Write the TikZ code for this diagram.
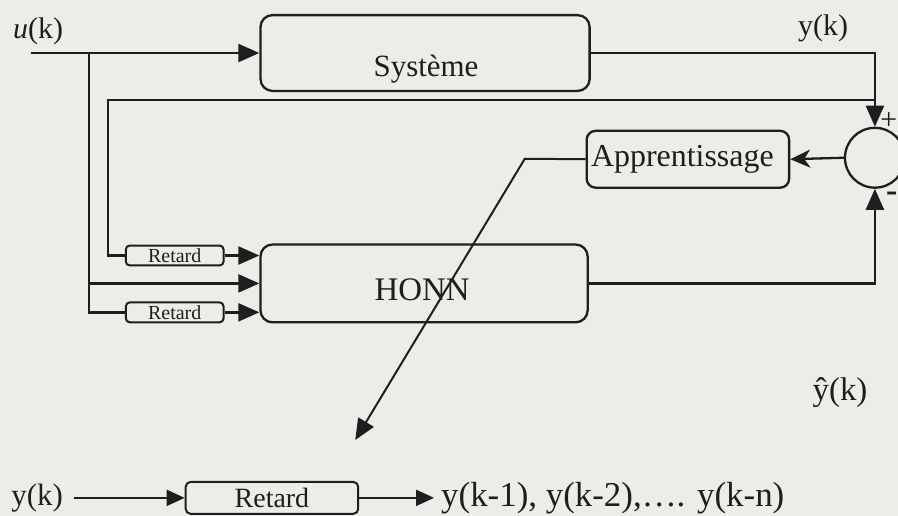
\documentclass[tikz,border=0pt]{standalone}
\usepackage{fontspec}
\setmainfont{Liberation Serif}
\usetikzlibrary{arrows.meta}
\definecolor{paper}{HTML}{EDECE8}
\definecolor{ink}{HTML}{1E1E1E}
\newcommand{\fsz}[1]{\fontsize{#1}{#1}\selectfont}
\begin{document}
\begin{tikzpicture}[x=1pt,y=-1pt,
  line width=2.3pt,
  every path/.style={draw=ink},
  blk/.style={draw=ink, line width=2.3pt, rounded corners=12pt, inner sep=0pt},
  retbox/.style={draw=ink, line width=2pt, rounded corners=4pt, inner sep=0pt,
                 minimum width=98pt, minimum height=20pt, font=\fsz{20}, text=ink},
  lbl/.style={inner sep=0pt, text=ink},
  arr/.style={-{Triangle[length=21pt,width=18pt]}},
  arrsm/.style={-{Triangle[length=18pt,width=16pt]}},
  arrst/.style={-{Stealth[length=20pt,width=18pt,inset=6pt]}},
]
\useasboundingbox (0,0) rectangle (898,515);
\fill[paper] (0,0) rectangle (898,515);

% blocks
\node[blk, minimum width=330pt, minimum height=76pt] (sys) at (425,52) {};
\node[lbl, font=\fsz{31}] (systxt) at (426,68) {Système};
\node[blk, minimum width=328pt, minimum height=78pt] (honn) at (424,283) {};
\node[lbl, font=\fsz{33}] (honntxt) at (422,289) {HONN};
\node[blk, rounded corners=9pt, minimum width=203pt, minimum height=57pt] (appr) at (688.5,158.5) {};
\node[lbl, font=\fsz{32}] (apprtxt) at (683,159) {Apprentissage};
\node[draw=ink, line width=2.3pt, circle, minimum size=60pt, inner sep=0pt] (sum) at (876,157) {};
\node[retbox] (ret1) at (174,255) {Retard};
\node[retbox] (ret2) at (174,312) {Retard};

% signal labels
\node[lbl, font=\fsz{30}] (u) at (37,30) {\textit{u}(k)};
\node[lbl, font=\fsz{30}] (ytop) at (824,27) {y(k)};
\node[lbl, font=\fsz{33}] (yhat) at (841,392) {ŷ(k)};
\node[lbl, font=\fsz{30}] (plus) at (890,120) {+};
\node[lbl, font=\fsz{34}] (minus) at (893,196) {\textbf{-}};

% input and its branches
\coordinate (uin) at (30,52);
\coordinate (ub) at (88,52);
\coordinate (ub2) at (88,283);
\draw[arr] (uin) -- (uin -| sys.west);
\draw (ub) |- (ret2.west);
\draw[arr] (ub2) -- (ub2 -| honn.west);
\draw[arr] (ret1.east) -- (ret1.east -| honn.west);
\draw[arr] (ret2.east) -- (ret2.east -| honn.west);

% plant output and its fed-back copy
\draw[arr] (sys.east) -| (sum.north);
\coordinate (fb) at (876,99);
\coordinate (fbc) at (107,99);
\draw (fb) -- (fbc) |- (ret1.west);

% network output to the comparator
\draw[arr] (honn.east) -| (sum.south);

% error drives the learning rule, which adjusts the network
\draw[arrst] (sum.west) -- (appr.east);
\coordinate (lk) at (525,158);
\coordinate (tip) at (355,440);
\draw[arr, line width=2pt] (appr.west) -- (lk) -- (tip);

% delay line
\node[lbl, font=\fsz{31}] (yk) at (36,498) {y(k)};
\node[draw=ink, line width=2pt, rounded corners=5pt, inner sep=0pt,
      minimum width=173pt, minimum height=32pt, font=\fsz{28}, text=ink] (bret) at (271.5,498) {Retard};
\node[lbl, font=\fsz{35}, anchor=west] (seq) at (440,498) {y(k-1), y(k-2),…. y(k-n)};
\draw[arrsm, line width=2pt] ([xshift=10pt]yk.east) -- (bret.west);
\draw[arrsm, line width=2pt] (bret.east) -- ([xshift=-6pt]seq.west);
\end{tikzpicture}
\end{document}
